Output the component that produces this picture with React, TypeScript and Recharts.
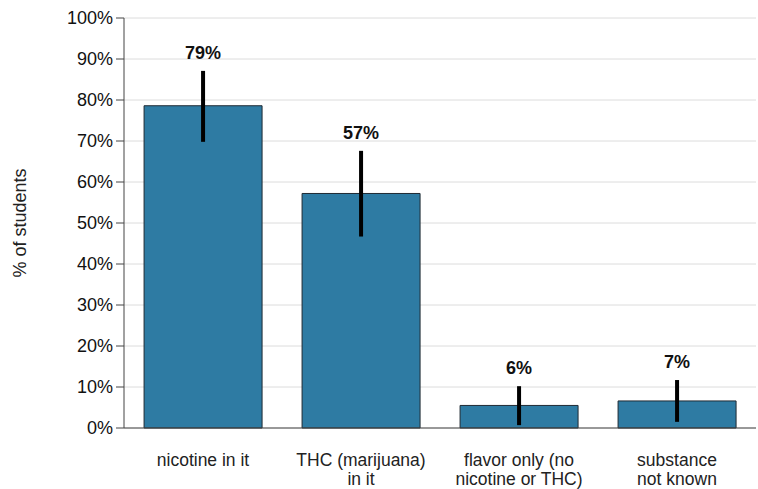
import {
  ComposedChart,
  Bar,
  Line,
  ErrorBar,
  LabelList,
  XAxis,
  YAxis,
  CartesianGrid,
} from 'recharts'

const categories = [
  'nicotine in it',
  'THC (marijuana)\nin it',
  'flavor only (no\nnicotine or THC)',
  'substance\nnot known',
]
const values = [78.6, 57.2, 5.5, 6.6]
const lows = [69.8, 46.7, 0.7, 1.5]
const highs = [87.1, 67.6, 10.2, 11.7]
const labels = ['79%', '57%', '6%', '7%']
const yTicks = [0, 10, 20, 30, 40, 50, 60, 70, 80, 90, 100]

const data = categories.map((name, i) => ({
  name,
  value: values[i],
  err: [values[i] - lows[i], highs[i] - values[i]],
  hi: highs[i],
  label: labels[i],
}))

const FONT = 'Arial, "Liberation Sans", sans-serif'

// x tick with manual line breaks
function CategoryTick({ x, y, payload }: any) {
  const lines = String(payload.value).split('\n')
  return (
    <text x={x} y={y} textAnchor="middle" fontFamily={FONT} fontSize={17.5} fill="#222">
      {lines.map((line, i) => (
        <tspan key={i} x={x} dy={i === 0 ? 30 : 19}>
          {line}
        </tspan>
      ))}
    </text>
  )
}

export default function App() {
  return (
    <div style={{ position: 'absolute', left: 0, top: 0, width: 758, height: 489, background: '#fff' }}>
      <ComposedChart
        width={758}
        height={489}
        data={data}
        margin={{ top: 18, right: 2, bottom: 0, left: 0 }}
        barCategoryGap="12.7%"
      >
        <CartesianGrid vertical={false} stroke="#dcdcdc" />
        <XAxis
          dataKey="name"
          tick={<CategoryTick />}
          tickLine={false}
          axisLine={{ stroke: '#444' }}
          height={61}
          interval={0}
        />
        <YAxis
          domain={[0, 100]}
          ticks={yTicks}
          tickFormatter={(v) => `${v}%`}
          width={124}
          axisLine={{ stroke: '#444' }}
          tickLine={{ stroke: '#444' }}
          tickSize={8}
          tickMargin={3}
          tick={{ fill: '#111', fontSize: 18, fontFamily: FONT }}
          label={{
            value: '% of students',
            angle: -90,
            position: 'insideLeft',
            offset: 20,
            style: { textAnchor: 'middle', fill: '#222', fontSize: 18, fontFamily: FONT },
          }}
        />
        <Bar dataKey="value" fill="#2e7ba3" stroke="#1f2a33" strokeWidth={1} isAnimationActive={false}>
          <ErrorBar dataKey="err" width={0} stroke="#000" strokeWidth={4} isAnimationActive={false} />
        </Bar>
        <Line
          dataKey="hi"
          stroke="none"
          dot={false}
          activeDot={false}
          isAnimationActive={false}
        >
          <LabelList
            dataKey="label"
            position="top"
            offset={12}
            style={{ fontWeight: 'bold', fontSize: 18, fontFamily: FONT, fill: '#111' }}
          />
        </Line>
      </ComposedChart>
    </div>
  )
}
